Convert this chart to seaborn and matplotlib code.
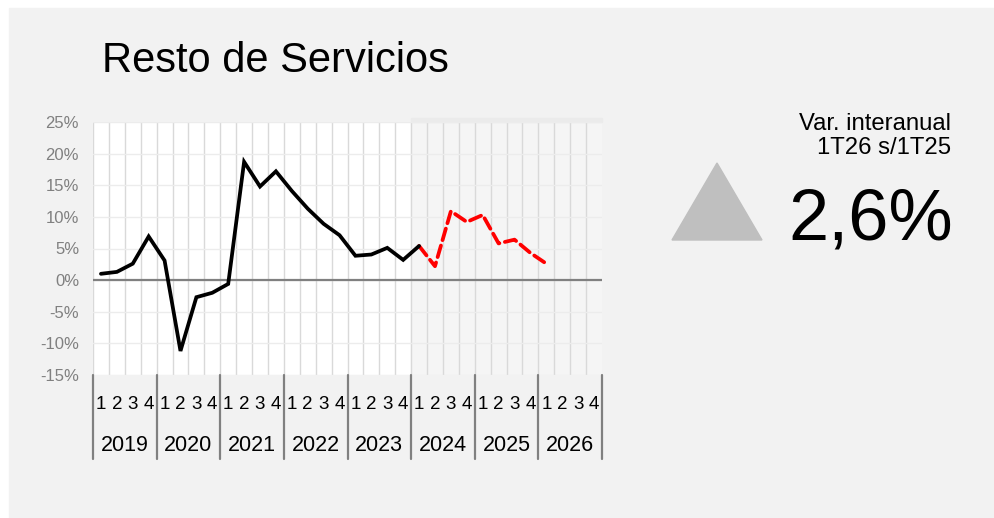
import numpy as np
import pandas as pd
import seaborn as sns
import matplotlib.pyplot as plt
from matplotlib.patches import Rectangle, Polygon


# Data (quarterly year-on-year change, %)
years = ["2019", "2020", "2021", "2022", "2023", "2024", "2025", "2026"]
quarter_labels = ["1", "2", "3", "4"]

observed = [1.0, 1.3, 2.6, 6.9, 3.1, -11.2, -2.7, -2.0, -0.6, 18.7, 14.8,
            17.2, 14.1, 11.3, 8.9, 7.1, 3.85, 4.05, 5.1, 3.2, 5.4]
forecast = [5.4, 2.2, 10.9, 9.2, 10.3, 5.8, 6.4, 4.3, 2.6]
forecast_start = 20  # 2024 Q1

yticks = [-15, -10, -5, 0, 5, 10, 15, 20, 25]

title = "Resto de Servicios"
kpi_label = "Var. interanual\n1T26 s/1T25"
kpi_value = "2,6%"

n_q = len(years) * 4

df_obs = pd.DataFrame({"x": np.arange(len(observed)) + 0.5, "y": observed})
df_fc = pd.DataFrame({"x": np.arange(len(forecast)) + forecast_start + 0.5,
                      "y": forecast})

sns.set_style("white")
plt.rcParams["font.family"] = ["Liberation Sans", "DejaVu Sans"]
plt.rcParams["text.color"] = "black"
plt.rcParams["xtick.color"] = "black"

fig = plt.figure(figsize=(9.94, 5.18), dpi=100)
fig.patch.set_facecolor("white")
fig.patches.append(Rectangle((9 / 994, 0), 1, 1 - 8 / 518,
                             transform=fig.transFigure, color="#f2f2f2",
                             zorder=-10))

ax = fig.add_axes([93 / 994, 1 - 375 / 518, 509 / 994, 253 / 518])
ax.set_facecolor("white")

# shaded forecast area
ax.axvspan(forecast_start, n_q, color="#f5f5f5", zorder=0)
ax.axvspan(forecast_start, n_q, ymin=1, ymax=1.016, color="#ebebeb",
           clip_on=False, zorder=0)

sns.lineplot(data=df_obs, x="x", y="y", ax=ax, color="black", lw=2.7,
             zorder=4, solid_capstyle="round", solid_joinstyle="miter")
sns.lineplot(data=df_fc, x="x", y="y", ax=ax, color="#ff0000", lw=2.7,
             zorder=3, dashes=(3.2, 1.5), dash_capstyle="round")

ax.axhline(0, color="#808080", lw=1.6, zorder=2)

ax.set_xlim(0, n_q)
ax.set_ylim(-15, 25)
ax.set_yticks(yticks)
ax.set_yticklabels([f"{v}%" for v in yticks], color="#808080", fontsize=12)

ax.set_xticks(np.arange(n_q), minor=True)
ax.set_xticks(np.arange(n_q) + 0.5)
ax.set_xticklabels(quarter_labels * len(years), fontsize=13.5)
ax.tick_params(axis="both", which="both", length=0)
ax.tick_params(axis="y", pad=10)

ax.grid(False)
ax.grid(True, which="minor", axis="x", color="#d9d9d9", lw=1, zorder=1)
ax.grid(True, which="major", axis="y", color="#ececec", lw=1, zorder=1)
ax.set_axisbelow(True)
for s in ax.spines.values():
    s.set_visible(False)
ax.set_xlabel("")
ax.set_ylabel("")
for lbl in ax.get_xticklabels():
    lbl.set_verticalalignment("center")
ax.tick_params(axis="x", pad=21)

# year labels and separators
trans = ax.get_xaxis_transform()
for i, yr in enumerate(years):
    ax.text(i * 4 + 2, -0.28, yr, transform=trans, ha="center",
            va="center", fontsize=15.5)
for i in range(len(years) + 1):
    ax.plot([i * 4, i * 4], [0, -0.332], transform=trans, color="#808080",
            lw=1.6, clip_on=False)

fig.text(102 / 994, 1 - 61 / 518, title, fontsize=30, va="center",
         ha="left")

fig.text(951 / 994, 1 - 136 / 518, kpi_label, fontsize=17.2, ha="right",
         va="center", linespacing=1.1)
fig.text(953 / 994, 1 - 239 / 518, kpi_value, fontsize=52, ha="right",
         va="baseline")

tri = Polygon([(672 / 994, 1 - 240 / 518), (762 / 994, 1 - 240 / 518),
               (717 / 994, 1 - 163 / 518)], closed=True,
              transform=fig.transFigure, color="#bfbfbf")
fig.patches.append(tri)

plt.savefig("out.png", dpi=100)
plt.close()
